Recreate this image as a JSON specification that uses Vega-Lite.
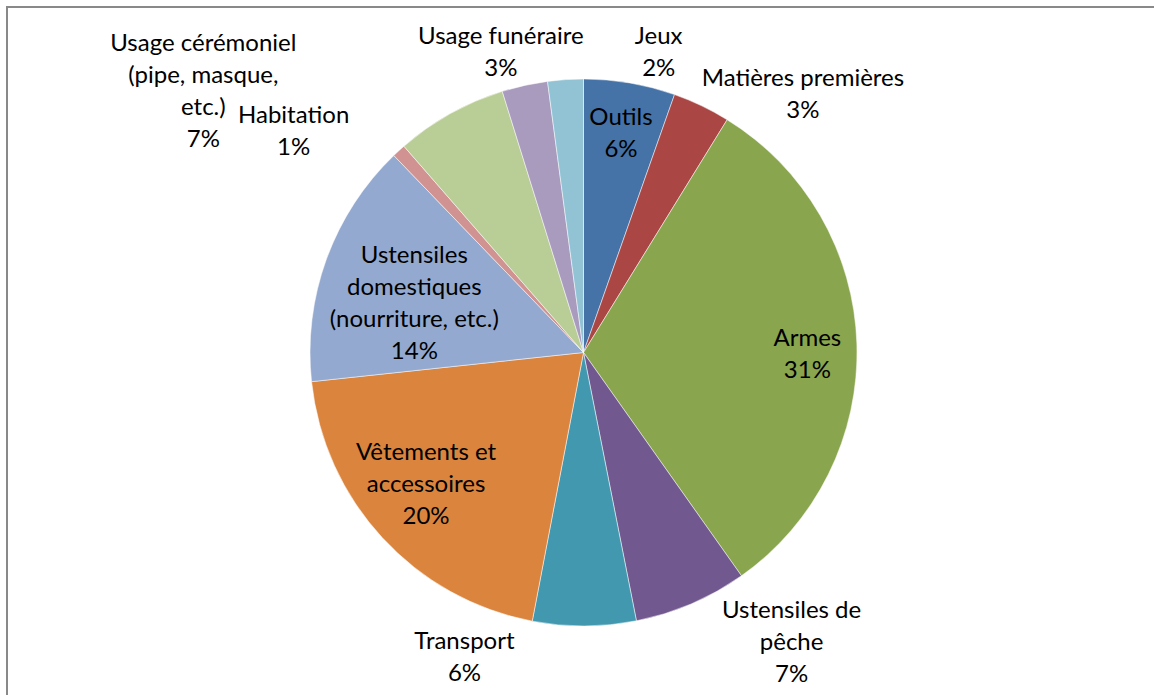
{
  "$schema": "https://vega.github.io/schema/vega-lite/v6.json",
  "width": 1153,
  "height": 691,
  "autosize": {"type": "none"},
  "padding": {"left": 7, "top": 7, "right": 0, "bottom": 0},
  "background": "white",
  "view": {"stroke": "#898989", "strokeWidth": 2, "fill": "white"},
  "config": {
    "view": {"stroke": "#898989", "strokeWidth": 2},
    "text": {"font": "Lato", "fontSize": 24, "lineHeight": 32, "lineBreak": "\n", "color": "#000000", "align": "center", "baseline": "middle"}
  },
  "data": {
    "values": [
      {"idx": 1, "cat": "Outils", "share": 5.4, "label": "Outils\n6%"},
      {"idx": 2, "cat": "Matières premières", "share": 3.4, "label": "Matières premières\n3%"},
      {"idx": 3, "cat": "Armes", "share": 31.4, "label": "Armes\n31%"},
      {"idx": 4, "cat": "Ustensiles de pêche", "share": 6.7, "label": "Ustensiles de\npêche\n7%"},
      {"idx": 5, "cat": "Transport", "share": 6.1, "label": "Transport\n6%"},
      {"idx": 6, "cat": "Vêtements et accessoires", "share": 20.3, "label": "Vêtements et\naccessoires\n20%"},
      {"idx": 7, "cat": "Ustensiles domestiques", "share": 14.5, "label": "Ustensiles\ndomestiques\n(nourriture, etc.)\n14%"},
      {"idx": 8, "cat": "Habitation", "share": 0.8, "label": "Habitation\n1%"},
      {"idx": 9, "cat": "Usage cérémoniel", "share": 6.6, "label": "Usage cérémoniel\n(pipe, masque,\netc.)\n7%"},
      {"idx": 10, "cat": "Usage funéraire", "share": 2.7, "label": "Usage funéraire\n3%"},
      {"idx": 11, "cat": "Jeux", "share": 2.1, "label": "Jeux\n2%"}
    ]
  },
  "encoding": {
    "theta": {"field": "share", "type": "quantitative", "stack": true},
    "order": {"field": "idx", "type": "quantitative"}
  },
  "layer": [
    {
      "mark": {"type": "arc", "outerRadius": 273.5, "stroke": "#ffffff", "strokeWidth": 0.5},
      "encoding": {
        "color": {
          "field": "cat",
          "type": "nominal",
          "legend": null,
          "scale": {
            "domain": ["Outils", "Matières premières", "Armes", "Ustensiles de pêche", "Transport", "Vêtements et accessoires", "Ustensiles domestiques", "Habitation", "Usage cérémoniel", "Usage funéraire", "Jeux"],
            "range": ["#4572A7", "#AA4643", "#89A54E", "#71588F", "#4198AF", "#DB843D", "#93A9CF", "#D19392", "#B9CD96", "#A99BBD", "#91C3D5"]
          }
        }
      }
    },
    {"mark": {"type": "text", "radius": 222, "dy": -16}, "encoding": {"text": {"condition": {"test": "datum.cat === 'Outils'", "field": "label"}, "value": ""}}},
    {"mark": {"type": "text", "radius": 300, "dx": 90, "dy": -3}, "encoding": {"text": {"condition": {"test": "datum.cat === 'Matières premières'", "field": "label"}, "value": ""}}},
    {"mark": {"type": "text", "radius": 224, "dy": -6}, "encoding": {"text": {"condition": {"test": "datum.cat === 'Armes'", "field": "label"}, "value": ""}}},
    {"mark": {"type": "text", "radius": 330, "dx": 78, "dy": -45}, "encoding": {"text": {"condition": {"test": "datum.cat === 'Ustensiles de pêche'", "field": "label"}, "value": ""}}},
    {"mark": {"type": "text", "radius": 306, "dx": -120, "dy": -16}, "encoding": {"text": {"condition": {"test": "datum.cat === 'Transport'", "field": "label"}, "value": ""}}},
    {"mark": {"type": "text", "radius": 206, "dx": -6, "dy": -39}, "encoding": {"text": {"condition": {"test": "datum.cat === 'Vêtements et accessoires'", "field": "label"}, "value": ""}}},
    {"mark": {"type": "text", "radius": 180, "dy": -35}, "encoding": {"text": {"condition": {"test": "datum.cat === 'Ustensiles domestiques'", "field": "label"}, "value": ""}}},
    {"mark": {"type": "text", "radius": 330, "dx": -67, "dy": 7}, "encoding": {"text": {"condition": {"test": "datum.cat === 'Habitation'", "field": "label"}, "value": ""}}},
    {"mark": {"type": "text", "radius": 300, "dx": -234, "dy": -47}, "encoding": {"text": {"condition": {"test": "datum.cat === 'Usage cérémoniel'", "field": "label"}, "value": ""}}},
    {"mark": {"type": "text", "radius": 310, "dx": -16, "dy": -13}, "encoding": {"text": {"condition": {"test": "datum.cat === 'Usage funéraire'", "field": "label"}, "value": ""}}},
    {"mark": {"type": "text", "radius": 300, "dx": 95, "dy": -16}, "encoding": {"text": {"condition": {"test": "datum.cat === 'Jeux'", "field": "label"}, "value": ""}}}
  ]
}
